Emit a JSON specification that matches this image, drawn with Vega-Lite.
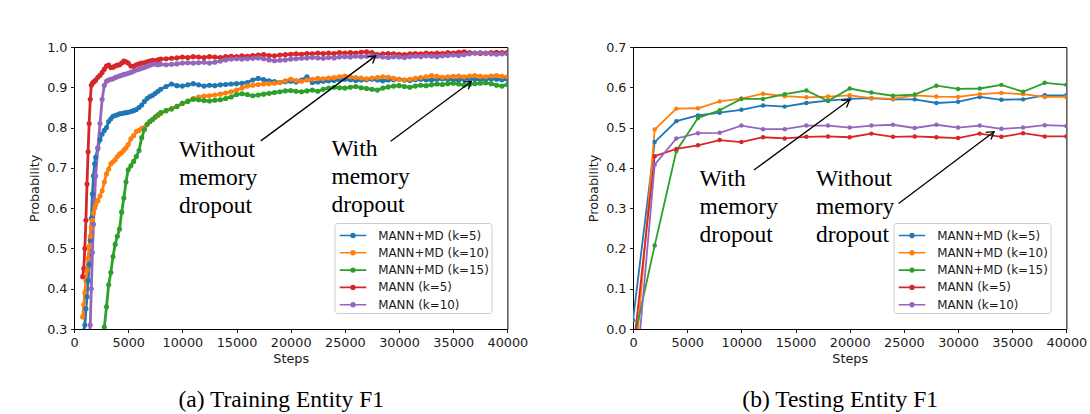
{
  "$schema": "https://vega.github.io/schema/vega-lite/v6.json",
  "padding": {"left": 27, "top": 40, "right": 5, "bottom": 5},
  "background": "white",
  "spacing": 125,
  "bounds": "flush",
  "resolve": {"legend": {"color": "independent"}},
  "config": {
    "font": "DejaVu Sans",
    "view": {"stroke": "#000", "strokeWidth": 1},
    "axis": {"grid": false, "domain": false, "tickColor": "#000", "tickSize": 3.5, "tickWidth": 0.9,
      "labelFontSize": 12.8, "labelColor": "#1a1a1a", "labelFont": "DejaVu Sans",
      "titleFontSize": 12.8, "titleFontWeight": "normal", "titleColor": "#1a1a1a", "titleFont": "DejaVu Sans"},
    "axisX": {"labelPadding": 4, "titlePadding": 3.5, "labelFlush": false},
    "axisY": {"labelPadding": 3.5, "titlePadding": 5.5},
    "legend": {"labelFontSize": 11.9, "labelFont": "DejaVu Sans", "labelColor": "#1a1a1a",
      "symbolType": "M-1.4,0H1.4M-0.2,0A0.2,0.2,0,1,0,0.2,0A0.2,0.2,0,1,0,-0.2,0",
      "symbolSize": 361, "symbolStrokeWidth": 1.6, "padding": 2, "symbolOffset": 6, "labelOffset": 14.7,
      "rowPadding": 0.3, "strokeColor": "#cccccc", "fillColor": "rgba(255,255,255,0.8)", "cornerRadius": 3},
    "title": {"font": "Liberation Serif", "fontSize": 23.5, "fontWeight": "normal", "color": "#000", "orient": "bottom", "offset": 22, "dx": -9.5}
  },
  "datasets": {
    "train": [
      {"step":800,"MANN+MD (k=5)":null,"MANN+MD (k=10)":0.33,"MANN+MD (k=15)":null,"MANN (k=5)":0.43,"MANN (k=10)":null},
      {"step":900,"MANN+MD (k=5)":0.295,"MANN+MD (k=10)":0.36,"MANN+MD (k=15)":null,"MANN (k=5)":0.45,"MANN (k=10)":null},
      {"step":1000,"MANN+MD (k=5)":0.31,"MANN+MD (k=10)":0.39,"MANN+MD (k=15)":null,"MANN (k=5)":0.50,"MANN (k=10)":null},
      {"step":1100,"MANN+MD (k=5)":0.35,"MANN+MD (k=10)":0.42,"MANN+MD (k=15)":null,"MANN (k=5)":0.57,"MANN (k=10)":null},
      {"step":1200,"MANN+MD (k=5)":0.38,"MANN+MD (k=10)":0.445,"MANN+MD (k=15)":null,"MANN (k=5)":0.66,"MANN (k=10)":null},
      {"step":1300,"MANN+MD (k=5)":0.42,"MANN+MD (k=10)":0.475,"MANN+MD (k=15)":null,"MANN (k=5)":0.74,"MANN (k=10)":null},
      {"step":1400,"MANN+MD (k=5)":0.46,"MANN+MD (k=10)":0.505,"MANN+MD (k=15)":null,"MANN (k=5)":0.81,"MANN (k=10)":0.26},
      {"step":1500,"MANN+MD (k=5)":0.52,"MANN+MD (k=10)":0.53,"MANN+MD (k=15)":null,"MANN (k=5)":0.87,"MANN (k=10)":0.31},
      {"step":1600,"MANN+MD (k=5)":0.575,"MANN+MD (k=10)":0.552,"MANN+MD (k=15)":null,"MANN (k=5)":0.905,"MANN (k=10)":0.40},
      {"step":1700,"MANN+MD (k=5)":0.635,"MANN+MD (k=10)":0.57,"MANN+MD (k=15)":null,"MANN (k=5)":0.91,"MANN (k=10)":0.49},
      {"step":1800,"MANN+MD (k=5)":0.68,"MANN+MD (k=10)":0.588,"MANN+MD (k=15)":null,"MANN (k=5)":0.913,"MANN (k=10)":0.56},
      {"step":1900,"MANN+MD (k=5)":0.71,"MANN+MD (k=10)":0.60,"MANN+MD (k=15)":null,"MANN (k=5)":0.915,"MANN (k=10)":0.62},
      {"step":2000,"MANN+MD (k=5)":0.726,"MANN+MD (k=10)":0.608,"MANN+MD (k=15)":null,"MANN (k=5)":0.918,"MANN (k=10)":0.68},
      {"step":2200,"MANN+MD (k=5)":0.748,"MANN+MD (k=10)":0.618,"MANN+MD (k=15)":null,"MANN (k=5)":0.925,"MANN (k=10)":0.75},
      {"step":2400,"MANN+MD (k=5)":0.77,"MANN+MD (k=10)":0.63,"MANN+MD (k=15)":null,"MANN (k=5)":0.93,"MANN (k=10)":0.81},
      {"step":2600,"MANN+MD (k=5)":0.784,"MANN+MD (k=10)":0.643,"MANN+MD (k=15)":0.27,"MANN (k=5)":0.937,"MANN (k=10)":0.87},
      {"step":2800,"MANN+MD (k=5)":0.793,"MANN+MD (k=10)":0.665,"MANN+MD (k=15)":0.305,"MANN (k=5)":0.945,"MANN (k=10)":0.905},
      {"step":3000,"MANN+MD (k=5)":0.80,"MANN+MD (k=10)":0.685,"MANN+MD (k=15)":0.355,"MANN (k=5)":0.953,"MANN (k=10)":0.915},
      {"step":3200,"MANN+MD (k=5)":0.815,"MANN+MD (k=10)":0.697,"MANN+MD (k=15)":0.41,"MANN (k=5)":0.955,"MANN (k=10)":0.918},
      {"step":3400,"MANN+MD (k=5)":0.822,"MANN+MD (k=10)":0.71,"MANN+MD (k=15)":0.44,"MANN (k=5)":0.949,"MANN (k=10)":0.92},
      {"step":3600,"MANN+MD (k=5)":0.828,"MANN+MD (k=10)":0.715,"MANN+MD (k=15)":0.48,"MANN (k=5)":0.95,"MANN (k=10)":0.921},
      {"step":3800,"MANN+MD (k=5)":0.83,"MANN+MD (k=10)":0.72,"MANN+MD (k=15)":0.51,"MANN (k=5)":0.953,"MANN (k=10)":0.924},
      {"step":4000,"MANN+MD (k=5)":0.832,"MANN+MD (k=10)":0.728,"MANN+MD (k=15)":0.53,"MANN (k=5)":0.955,"MANN (k=10)":0.926},
      {"step":4200,"MANN+MD (k=5)":0.834,"MANN+MD (k=10)":0.734,"MANN+MD (k=15)":0.548,"MANN (k=5)":0.956,"MANN (k=10)":0.928},
      {"step":4400,"MANN+MD (k=5)":0.835,"MANN+MD (k=10)":0.738,"MANN+MD (k=15)":0.59,"MANN (k=5)":0.96,"MANN (k=10)":0.93},
      {"step":4600,"MANN+MD (k=5)":0.836,"MANN+MD (k=10)":0.744,"MANN+MD (k=15)":0.625,"MANN (k=5)":0.965,"MANN (k=10)":0.932},
      {"step":4800,"MANN+MD (k=5)":0.837,"MANN+MD (k=10)":0.75,"MANN+MD (k=15)":0.665,"MANN (k=5)":0.963,"MANN (k=10)":0.933},
      {"step":5000,"MANN+MD (k=5)":0.838,"MANN+MD (k=10)":0.758,"MANN+MD (k=15)":0.695,"MANN (k=5)":0.96,"MANN (k=10)":0.935},
      {"step":5250,"MANN+MD (k=5)":0.84,"MANN+MD (k=10)":0.772,"MANN+MD (k=15)":0.705,"MANN (k=5)":0.953,"MANN (k=10)":0.937},
      {"step":5500,"MANN+MD (k=5)":0.842,"MANN+MD (k=10)":0.78,"MANN+MD (k=15)":0.716,"MANN (k=5)":0.952,"MANN (k=10)":0.94},
      {"step":5750,"MANN+MD (k=5)":0.845,"MANN+MD (k=10)":0.79,"MANN+MD (k=15)":0.728,"MANN (k=5)":0.956,"MANN (k=10)":0.943},
      {"step":6000,"MANN+MD (k=5)":0.85,"MANN+MD (k=10)":0.793,"MANN+MD (k=15)":0.743,"MANN (k=5)":0.958,"MANN (k=10)":0.945},
      {"step":6250,"MANN+MD (k=5)":0.856,"MANN+MD (k=10)":0.798,"MANN+MD (k=15)":0.775,"MANN (k=5)":0.96,"MANN (k=10)":0.947},
      {"step":6500,"MANN+MD (k=5)":0.865,"MANN+MD (k=10)":0.80,"MANN+MD (k=15)":0.795,"MANN (k=5)":0.961,"MANN (k=10)":0.949},
      {"step":6750,"MANN+MD (k=5)":0.872,"MANN+MD (k=10)":0.808,"MANN+MD (k=15)":0.808,"MANN (k=5)":0.963,"MANN (k=10)":0.952},
      {"step":7000,"MANN+MD (k=5)":0.877,"MANN+MD (k=10)":0.815,"MANN+MD (k=15)":0.815,"MANN (k=5)":0.965,"MANN (k=10)":0.955},
      {"step":7250,"MANN+MD (k=5)":0.88,"MANN+MD (k=10)":0.82,"MANN+MD (k=15)":0.82,"MANN (k=5)":0.967,"MANN (k=10)":0.957},
      {"step":7500,"MANN+MD (k=5)":0.885,"MANN+MD (k=10)":0.826,"MANN+MD (k=15)":0.826,"MANN (k=5)":0.966,"MANN (k=10)":0.958},
      {"step":7750,"MANN+MD (k=5)":0.89,"MANN+MD (k=10)":0.83,"MANN+MD (k=15)":0.832,"MANN (k=5)":0.968,"MANN (k=10)":0.956},
      {"step":8000,"MANN+MD (k=5)":0.895,"MANN+MD (k=10)":0.835,"MANN+MD (k=15)":0.837,"MANN (k=5)":0.97,"MANN (k=10)":0.957},
      {"step":8500,"MANN+MD (k=5)":0.902,"MANN+MD (k=10)":0.842,"MANN+MD (k=15)":0.842,"MANN (k=5)":0.971,"MANN (k=10)":0.956},
      {"step":9000,"MANN+MD (k=5)":0.908,"MANN+MD (k=10)":0.847,"MANN+MD (k=15)":0.846,"MANN (k=5)":0.972,"MANN (k=10)":0.957},
      {"step":9500,"MANN+MD (k=5)":0.904,"MANN+MD (k=10)":0.853,"MANN+MD (k=15)":0.852,"MANN (k=5)":0.973,"MANN (k=10)":0.958},
      {"step":10000,"MANN+MD (k=5)":0.903,"MANN+MD (k=10)":0.86,"MANN+MD (k=15)":0.86,"MANN (k=5)":0.975,"MANN (k=10)":0.96},
      {"step":10500,"MANN+MD (k=5)":0.906,"MANN+MD (k=10)":0.866,"MANN+MD (k=15)":0.865,"MANN (k=5)":0.974,"MANN (k=10)":0.961},
      {"step":11000,"MANN+MD (k=5)":0.909,"MANN+MD (k=10)":0.872,"MANN+MD (k=15)":0.87,"MANN (k=5)":0.976,"MANN (k=10)":0.96},
      {"step":11500,"MANN+MD (k=5)":0.906,"MANN+MD (k=10)":0.876,"MANN+MD (k=15)":0.869,"MANN (k=5)":0.975,"MANN (k=10)":0.961},
      {"step":12000,"MANN+MD (k=5)":0.903,"MANN+MD (k=10)":0.878,"MANN+MD (k=15)":0.867,"MANN (k=5)":0.974,"MANN (k=10)":0.962},
      {"step":12500,"MANN+MD (k=5)":0.905,"MANN+MD (k=10)":0.879,"MANN+MD (k=15)":0.866,"MANN (k=5)":0.976,"MANN (k=10)":0.96},
      {"step":13000,"MANN+MD (k=5)":0.904,"MANN+MD (k=10)":0.881,"MANN+MD (k=15)":0.868,"MANN (k=5)":0.975,"MANN (k=10)":0.962},
      {"step":13500,"MANN+MD (k=5)":0.906,"MANN+MD (k=10)":0.883,"MANN+MD (k=15)":0.869,"MANN (k=5)":0.974,"MANN (k=10)":0.965},
      {"step":14000,"MANN+MD (k=5)":0.907,"MANN+MD (k=10)":0.886,"MANN+MD (k=15)":0.872,"MANN (k=5)":0.976,"MANN (k=10)":0.968},
      {"step":14500,"MANN+MD (k=5)":0.908,"MANN+MD (k=10)":0.889,"MANN+MD (k=15)":0.876,"MANN (k=5)":0.977,"MANN (k=10)":0.97},
      {"step":15000,"MANN+MD (k=5)":0.909,"MANN+MD (k=10)":0.893,"MANN+MD (k=15)":0.882,"MANN (k=5)":0.976,"MANN (k=10)":0.971},
      {"step":15500,"MANN+MD (k=5)":0.91,"MANN+MD (k=10)":0.898,"MANN+MD (k=15)":0.884,"MANN (k=5)":0.978,"MANN (k=10)":0.97},
      {"step":16000,"MANN+MD (k=5)":0.912,"MANN+MD (k=10)":0.903,"MANN+MD (k=15)":0.882,"MANN (k=5)":0.977,"MANN (k=10)":0.971},
      {"step":16500,"MANN+MD (k=5)":0.918,"MANN+MD (k=10)":0.905,"MANN+MD (k=15)":0.879,"MANN (k=5)":0.979,"MANN (k=10)":0.972},
      {"step":17000,"MANN+MD (k=5)":0.922,"MANN+MD (k=10)":0.907,"MANN+MD (k=15)":0.881,"MANN (k=5)":0.98,"MANN (k=10)":0.973},
      {"step":17500,"MANN+MD (k=5)":0.919,"MANN+MD (k=10)":0.908,"MANN+MD (k=15)":0.883,"MANN (k=5)":0.981,"MANN (k=10)":0.971},
      {"step":18000,"MANN+MD (k=5)":0.916,"MANN+MD (k=10)":0.909,"MANN+MD (k=15)":0.885,"MANN (k=5)":0.979,"MANN (k=10)":0.968},
      {"step":18500,"MANN+MD (k=5)":0.914,"MANN+MD (k=10)":0.91,"MANN+MD (k=15)":0.887,"MANN (k=5)":0.978,"MANN (k=10)":0.966},
      {"step":19000,"MANN+MD (k=5)":0.912,"MANN+MD (k=10)":0.912,"MANN+MD (k=15)":0.889,"MANN (k=5)":0.98,"MANN (k=10)":0.967},
      {"step":19500,"MANN+MD (k=5)":0.914,"MANN+MD (k=10)":0.916,"MANN+MD (k=15)":0.891,"MANN (k=5)":0.981,"MANN (k=10)":0.968},
      {"step":20000,"MANN+MD (k=5)":0.915,"MANN+MD (k=10)":0.92,"MANN+MD (k=15)":0.892,"MANN (k=5)":0.982,"MANN (k=10)":0.97},
      {"step":20500,"MANN+MD (k=5)":0.913,"MANN+MD (k=10)":0.917,"MANN+MD (k=15)":0.89,"MANN (k=5)":0.983,"MANN (k=10)":0.971},
      {"step":21000,"MANN+MD (k=5)":0.918,"MANN+MD (k=10)":0.915,"MANN+MD (k=15)":0.889,"MANN (k=5)":0.982,"MANN (k=10)":0.972},
      {"step":21500,"MANN+MD (k=5)":0.926,"MANN+MD (k=10)":0.918,"MANN+MD (k=15)":0.891,"MANN (k=5)":0.984,"MANN (k=10)":0.973},
      {"step":22000,"MANN+MD (k=5)":0.912,"MANN+MD (k=10)":0.92,"MANN+MD (k=15)":0.893,"MANN (k=5)":0.983,"MANN (k=10)":0.974},
      {"step":22500,"MANN+MD (k=5)":0.913,"MANN+MD (k=10)":0.922,"MANN+MD (k=15)":0.89,"MANN (k=5)":0.985,"MANN (k=10)":0.973},
      {"step":23000,"MANN+MD (k=5)":0.915,"MANN+MD (k=10)":0.921,"MANN+MD (k=15)":0.895,"MANN (k=5)":0.984,"MANN (k=10)":0.972},
      {"step":23500,"MANN+MD (k=5)":0.916,"MANN+MD (k=10)":0.923,"MANN+MD (k=15)":0.898,"MANN (k=5)":0.985,"MANN (k=10)":0.974},
      {"step":24000,"MANN+MD (k=5)":0.917,"MANN+MD (k=10)":0.924,"MANN+MD (k=15)":0.90,"MANN (k=5)":0.984,"MANN (k=10)":0.973},
      {"step":24500,"MANN+MD (k=5)":0.918,"MANN+MD (k=10)":0.926,"MANN+MD (k=15)":0.899,"MANN (k=5)":0.986,"MANN (k=10)":0.975},
      {"step":25000,"MANN+MD (k=5)":0.92,"MANN+MD (k=10)":0.928,"MANN+MD (k=15)":0.898,"MANN (k=5)":0.985,"MANN (k=10)":0.976},
      {"step":25500,"MANN+MD (k=5)":0.919,"MANN+MD (k=10)":0.926,"MANN+MD (k=15)":0.90,"MANN (k=5)":0.986,"MANN (k=10)":0.975},
      {"step":26000,"MANN+MD (k=5)":0.917,"MANN+MD (k=10)":0.924,"MANN+MD (k=15)":0.902,"MANN (k=5)":0.985,"MANN (k=10)":0.977},
      {"step":26500,"MANN+MD (k=5)":0.918,"MANN+MD (k=10)":0.923,"MANN+MD (k=15)":0.899,"MANN (k=5)":0.987,"MANN (k=10)":0.976},
      {"step":27000,"MANN+MD (k=5)":0.919,"MANN+MD (k=10)":0.921,"MANN+MD (k=15)":0.897,"MANN (k=5)":0.988,"MANN (k=10)":0.977},
      {"step":27500,"MANN+MD (k=5)":0.92,"MANN+MD (k=10)":0.923,"MANN+MD (k=15)":0.895,"MANN (k=5)":0.986,"MANN (k=10)":0.978},
      {"step":28000,"MANN+MD (k=5)":0.918,"MANN+MD (k=10)":0.924,"MANN+MD (k=15)":0.893,"MANN (k=5)":0.981,"MANN (k=10)":0.977},
      {"step":28500,"MANN+MD (k=5)":0.916,"MANN+MD (k=10)":0.926,"MANN+MD (k=15)":0.898,"MANN (k=5)":0.983,"MANN (k=10)":0.975},
      {"step":29000,"MANN+MD (k=5)":0.918,"MANN+MD (k=10)":0.925,"MANN+MD (k=15)":0.901,"MANN (k=5)":0.984,"MANN (k=10)":0.974},
      {"step":29500,"MANN+MD (k=5)":0.919,"MANN+MD (k=10)":0.922,"MANN+MD (k=15)":0.903,"MANN (k=5)":0.983,"MANN (k=10)":0.976},
      {"step":30000,"MANN+MD (k=5)":0.92,"MANN+MD (k=10)":0.92,"MANN+MD (k=15)":0.904,"MANN (k=5)":0.982,"MANN (k=10)":0.975},
      {"step":30500,"MANN+MD (k=5)":0.918,"MANN+MD (k=10)":0.918,"MANN+MD (k=15)":0.902,"MANN (k=5)":0.981,"MANN (k=10)":0.974},
      {"step":31000,"MANN+MD (k=5)":0.917,"MANN+MD (k=10)":0.92,"MANN+MD (k=15)":0.90,"MANN (k=5)":0.983,"MANN (k=10)":0.976},
      {"step":31500,"MANN+MD (k=5)":0.919,"MANN+MD (k=10)":0.922,"MANN+MD (k=15)":0.903,"MANN (k=5)":0.984,"MANN (k=10)":0.977},
      {"step":32000,"MANN+MD (k=5)":0.92,"MANN+MD (k=10)":0.924,"MANN+MD (k=15)":0.905,"MANN (k=5)":0.983,"MANN (k=10)":0.976},
      {"step":32500,"MANN+MD (k=5)":0.919,"MANN+MD (k=10)":0.926,"MANN+MD (k=15)":0.904,"MANN (k=5)":0.985,"MANN (k=10)":0.978},
      {"step":33000,"MANN+MD (k=5)":0.918,"MANN+MD (k=10)":0.929,"MANN+MD (k=15)":0.906,"MANN (k=5)":0.984,"MANN (k=10)":0.977},
      {"step":33500,"MANN+MD (k=5)":0.92,"MANN+MD (k=10)":0.927,"MANN+MD (k=15)":0.908,"MANN (k=5)":0.985,"MANN (k=10)":0.976},
      {"step":34000,"MANN+MD (k=5)":0.921,"MANN+MD (k=10)":0.925,"MANN+MD (k=15)":0.907,"MANN (k=5)":0.984,"MANN (k=10)":0.978},
      {"step":34500,"MANN+MD (k=5)":0.92,"MANN+MD (k=10)":0.926,"MANN+MD (k=15)":0.909,"MANN (k=5)":0.986,"MANN (k=10)":0.979},
      {"step":35000,"MANN+MD (k=5)":0.919,"MANN+MD (k=10)":0.927,"MANN+MD (k=15)":0.91,"MANN (k=5)":0.985,"MANN (k=10)":0.98},
      {"step":35500,"MANN+MD (k=5)":0.918,"MANN+MD (k=10)":0.928,"MANN+MD (k=15)":0.908,"MANN (k=5)":0.987,"MANN (k=10)":0.979},
      {"step":36000,"MANN+MD (k=5)":0.92,"MANN+MD (k=10)":0.926,"MANN+MD (k=15)":0.905,"MANN (k=5)":0.988,"MANN (k=10)":0.981},
      {"step":36500,"MANN+MD (k=5)":0.921,"MANN+MD (k=10)":0.928,"MANN+MD (k=15)":0.907,"MANN (k=5)":0.986,"MANN (k=10)":0.983},
      {"step":37000,"MANN+MD (k=5)":0.92,"MANN+MD (k=10)":0.929,"MANN+MD (k=15)":0.909,"MANN (k=5)":0.985,"MANN (k=10)":0.985},
      {"step":37500,"MANN+MD (k=5)":0.919,"MANN+MD (k=10)":0.927,"MANN+MD (k=15)":0.91,"MANN (k=5)":0.984,"MANN (k=10)":0.986},
      {"step":38000,"MANN+MD (k=5)":0.92,"MANN+MD (k=10)":0.926,"MANN+MD (k=15)":0.911,"MANN (k=5)":0.985,"MANN (k=10)":0.984},
      {"step":38500,"MANN+MD (k=5)":0.921,"MANN+MD (k=10)":0.928,"MANN+MD (k=15)":0.909,"MANN (k=5)":0.986,"MANN (k=10)":0.983},
      {"step":39000,"MANN+MD (k=5)":0.92,"MANN+MD (k=10)":0.929,"MANN+MD (k=15)":0.905,"MANN (k=5)":0.987,"MANN (k=10)":0.982},
      {"step":39500,"MANN+MD (k=5)":0.919,"MANN+MD (k=10)":0.927,"MANN+MD (k=15)":0.903,"MANN (k=5)":0.986,"MANN (k=10)":0.983},
      {"step":40000,"MANN+MD (k=5)":0.92,"MANN+MD (k=10)":0.926,"MANN+MD (k=15)":0.907,"MANN (k=5)":0.987,"MANN (k=10)":0.983}
    ],
    "test": [
      {"step":0,"MANN+MD (k=5)":0.022,"MANN+MD (k=10)":-0.148,"MANN+MD (k=15)":-0.037,"MANN (k=5)":-0.059,"MANN (k=10)":-0.207},
      {"step":2000,"MANN+MD (k=5)":0.464,"MANN+MD (k=10)":0.495,"MANN+MD (k=15)":0.207,"MANN (k=5)":0.429,"MANN (k=10)":0.408},
      {"step":4000,"MANN+MD (k=5)":0.516,"MANN+MD (k=10)":0.547,"MANN+MD (k=15)":0.442,"MANN (k=5)":0.447,"MANN (k=10)":0.473},
      {"step":6000,"MANN+MD (k=5)":0.53,"MANN+MD (k=10)":0.548,"MANN+MD (k=15)":0.524,"MANN (k=5)":0.456,"MANN (k=10)":0.486},
      {"step":8000,"MANN+MD (k=5)":0.537,"MANN+MD (k=10)":0.565,"MANN+MD (k=15)":0.543,"MANN (k=5)":0.469,"MANN (k=10)":0.487},
      {"step":10000,"MANN+MD (k=5)":0.544,"MANN+MD (k=10)":0.572,"MANN+MD (k=15)":0.571,"MANN (k=5)":0.464,"MANN (k=10)":0.505},
      {"step":12000,"MANN+MD (k=5)":0.555,"MANN+MD (k=10)":0.584,"MANN+MD (k=15)":0.571,"MANN (k=5)":0.476,"MANN (k=10)":0.496},
      {"step":14000,"MANN+MD (k=5)":0.552,"MANN+MD (k=10)":0.578,"MANN+MD (k=15)":0.583,"MANN (k=5)":0.473,"MANN (k=10)":0.496},
      {"step":16000,"MANN+MD (k=5)":0.561,"MANN+MD (k=10)":0.575,"MANN+MD (k=15)":0.592,"MANN (k=5)":0.477,"MANN (k=10)":0.505},
      {"step":18000,"MANN+MD (k=5)":0.567,"MANN+MD (k=10)":0.577,"MANN+MD (k=15)":0.566,"MANN (k=5)":0.478,"MANN (k=10)":0.505},
      {"step":20000,"MANN+MD (k=5)":0.571,"MANN+MD (k=10)":0.58,"MANN+MD (k=15)":0.597,"MANN (k=5)":0.476,"MANN (k=10)":0.50},
      {"step":22000,"MANN+MD (k=5)":0.573,"MANN+MD (k=10)":0.573,"MANN+MD (k=15)":0.587,"MANN (k=5)":0.485,"MANN (k=10)":0.505},
      {"step":24000,"MANN+MD (k=5)":0.57,"MANN+MD (k=10)":0.571,"MANN+MD (k=15)":0.579,"MANN (k=5)":0.477,"MANN (k=10)":0.507},
      {"step":26000,"MANN+MD (k=5)":0.57,"MANN+MD (k=10)":0.58,"MANN+MD (k=15)":0.582,"MANN (k=5)":0.478,"MANN (k=10)":0.499},
      {"step":28000,"MANN+MD (k=5)":0.561,"MANN+MD (k=10)":0.577,"MANN+MD (k=15)":0.604,"MANN (k=5)":0.476,"MANN (k=10)":0.507},
      {"step":30000,"MANN+MD (k=5)":0.564,"MANN+MD (k=10)":0.576,"MANN+MD (k=15)":0.596,"MANN (k=5)":0.474,"MANN (k=10)":0.50},
      {"step":32000,"MANN+MD (k=5)":0.576,"MANN+MD (k=10)":0.583,"MANN+MD (k=15)":0.597,"MANN (k=5)":0.485,"MANN (k=10)":0.505},
      {"step":34000,"MANN+MD (k=5)":0.569,"MANN+MD (k=10)":0.586,"MANN+MD (k=15)":0.606,"MANN (k=5)":0.477,"MANN (k=10)":0.497},
      {"step":36000,"MANN+MD (k=5)":0.57,"MANN+MD (k=10)":0.583,"MANN+MD (k=15)":0.589,"MANN (k=5)":0.486,"MANN (k=10)":0.50},
      {"step":38000,"MANN+MD (k=5)":0.58,"MANN+MD (k=10)":0.576,"MANN+MD (k=15)":0.611,"MANN (k=5)":0.478,"MANN (k=10)":0.506},
      {"step":40000,"MANN+MD (k=5)":0.58,"MANN+MD (k=10)":0.576,"MANN+MD (k=15)":0.606,"MANN (k=5)":0.478,"MANN (k=10)":0.504}
    ],
    "annTrain": [
      {"x0":17243,"y0":0.767,"x1":27844,"y1":0.978,"tx":9690,"ty":0.7277,"label":"Without\nmemory\ndropout"},
      {"x0":29228,"y0":0.766,"x1":36675,"y1":0.9146,"tx":23755,"ty":0.730,"label":"With\nmemory\ndropout"}
    ],
    "annTest": [
      {"x0":11170,"y0":0.3947,"x1":19995,"y1":0.569,"tx":6148,"ty":0.3557,"label":"With\nmemory\ndropout"},
      {"x0":24518,"y0":0.3117,"x1":33324,"y1":0.4897,"tx":16884,"ty":0.3557,"label":"Without\nmemory\ndropout"}
    ]
  },
  "hconcat": [
    {
      "width": 433.4,
      "height": 282,
      "title": {"text": "(a) Training Entity F1"},
      "layer": [
        {
          "data": {"name": "train"},
          "transform": [{"fold": ["MANN+MD (k=5)", "MANN+MD (k=10)", "MANN+MD (k=15)", "MANN (k=5)", "MANN (k=10)"], "as": ["series", "value"]}],
          "encoding": {
            "x": {"field": "step", "type": "quantitative", "title": "Steps", "scale": {"domain": [0, 40000], "nice": false, "zero": false},
              "axis": {"title": "Steps", "values": [0,5000,10000,15000,20000,25000,30000,35000,40000], "format": "d"}},
            "y": {"field": "value", "type": "quantitative", "title": "Probability", "scale": {"domain": [0.3, 1.0], "nice": false, "zero": false},
              "axis": {"title": "Probability", "values": [0.3,0.4,0.5,0.6,0.7,0.8,0.9,1.0], "format": ".1f"}},
            "color": {"field": "series", "type": "nominal",
              "scale": {"domain": ["MANN+MD (k=5)", "MANN+MD (k=10)", "MANN+MD (k=15)", "MANN (k=5)", "MANN (k=10)"],
                "range": ["#1f77b4", "#ff7f0e", "#2ca02c", "#d62728", "#9467bd"]},
              "legend": {"orient": "none", "legendX": 260.5, "legendY": 176, "title": null}}
          },
          "layer": [
            {"mark": {"type": "line", "strokeWidth": 2.8, "clip": true}},
            {"mark": {"type": "point", "filled": true, "size": 26, "opacity": 1, "clip": true}}
          ]
        },
        {
          "data": {"name": "annTrain"},
          "mark": {"type": "rule", "color": "#000", "strokeWidth": 1.3},
          "encoding": {
            "x": {"field": "x0", "type": "quantitative", "title": "Steps"},
            "y": {"field": "y0", "type": "quantitative", "title": "Probability"},
            "x2": {"field": "x1"},
            "y2": {"field": "y1"}
          }
        },
        {
          "data": {"name": "annTrain"},
          "mark": {"type": "point", "shape": "M-1,-0.62L0,0L-1,0.62", "angle": -36.6, "size": 200, "filled": false, "stroke": "#000", "strokeWidth": 1.3, "opacity": 1},
          "encoding": {
            "x": {"field": "x1", "type": "quantitative", "title": "Steps"},
            "y": {"field": "y1", "type": "quantitative", "title": "Probability"}
          }
        },
        {
          "data": {"name": "annTrain"},
          "mark": {"type": "text", "font": "Liberation Serif", "fontSize": 23.5, "align": "left", "baseline": "alphabetic", "lineBreak": "\n", "lineHeight": 28.3, "color": "#000"},
          "encoding": {
            "x": {"field": "tx", "type": "quantitative", "title": "Steps"},
            "y": {"field": "ty", "type": "quantitative", "title": "Probability"},
            "text": {"field": "label"}
          }
        }
      ]
    },
    {
      "width": 433.4,
      "height": 282,
      "title": {"text": "(b) Testing Entity F1"},
      "layer": [
        {
          "data": {"name": "test"},
          "transform": [{"fold": ["MANN+MD (k=5)", "MANN+MD (k=10)", "MANN+MD (k=15)", "MANN (k=5)", "MANN (k=10)"], "as": ["series", "value"]}],
          "encoding": {
            "x": {"field": "step", "type": "quantitative", "title": "Steps", "scale": {"domain": [0, 40000], "nice": false, "zero": false},
              "axis": {"title": "Steps", "values": [0,5000,10000,15000,20000,25000,30000,35000,40000], "format": "d"}},
            "y": {"field": "value", "type": "quantitative", "title": "Probability", "scale": {"domain": [0, 0.7], "nice": false},
              "axis": {"title": "Probability", "values": [0,0.1,0.2,0.3,0.4,0.5,0.6,0.7], "format": ".1f"}},
            "color": {"field": "series", "type": "nominal",
              "scale": {"domain": ["MANN+MD (k=5)", "MANN+MD (k=10)", "MANN+MD (k=15)", "MANN (k=5)", "MANN (k=10)"],
                "range": ["#1f77b4", "#ff7f0e", "#2ca02c", "#d62728", "#9467bd"]},
              "legend": {"orient": "none", "legendX": 260.5, "legendY": 176, "title": null}}
          },
          "layer": [
            {"mark": {"type": "line", "strokeWidth": 1.8, "clip": true}},
            {"mark": {"type": "point", "filled": true, "size": 20, "opacity": 1, "clip": true}}
          ]
        },
        {
          "data": {"name": "annTest"},
          "mark": {"type": "rule", "color": "#000", "strokeWidth": 1.3},
          "encoding": {
            "x": {"field": "x0", "type": "quantitative", "title": "Steps"},
            "y": {"field": "y0", "type": "quantitative", "title": "Probability"},
            "x2": {"field": "x1"},
            "y2": {"field": "y1"}
          }
        },
        {
          "data": {"name": "annTest"},
          "mark": {"type": "point", "shape": "M-1,-0.62L0,0L-1,0.62", "angle": -36.6, "size": 200, "filled": false, "stroke": "#000", "strokeWidth": 1.3, "opacity": 1},
          "encoding": {
            "x": {"field": "x1", "type": "quantitative", "title": "Steps"},
            "y": {"field": "y1", "type": "quantitative", "title": "Probability"}
          }
        },
        {
          "data": {"name": "annTest"},
          "mark": {"type": "text", "font": "Liberation Serif", "fontSize": 23.5, "align": "left", "baseline": "alphabetic", "lineBreak": "\n", "lineHeight": 28.3, "color": "#000"},
          "encoding": {
            "x": {"field": "tx", "type": "quantitative", "title": "Steps"},
            "y": {"field": "ty", "type": "quantitative", "title": "Probability"},
            "text": {"field": "label"}
          }
        }
      ]
    }
  ]
}
